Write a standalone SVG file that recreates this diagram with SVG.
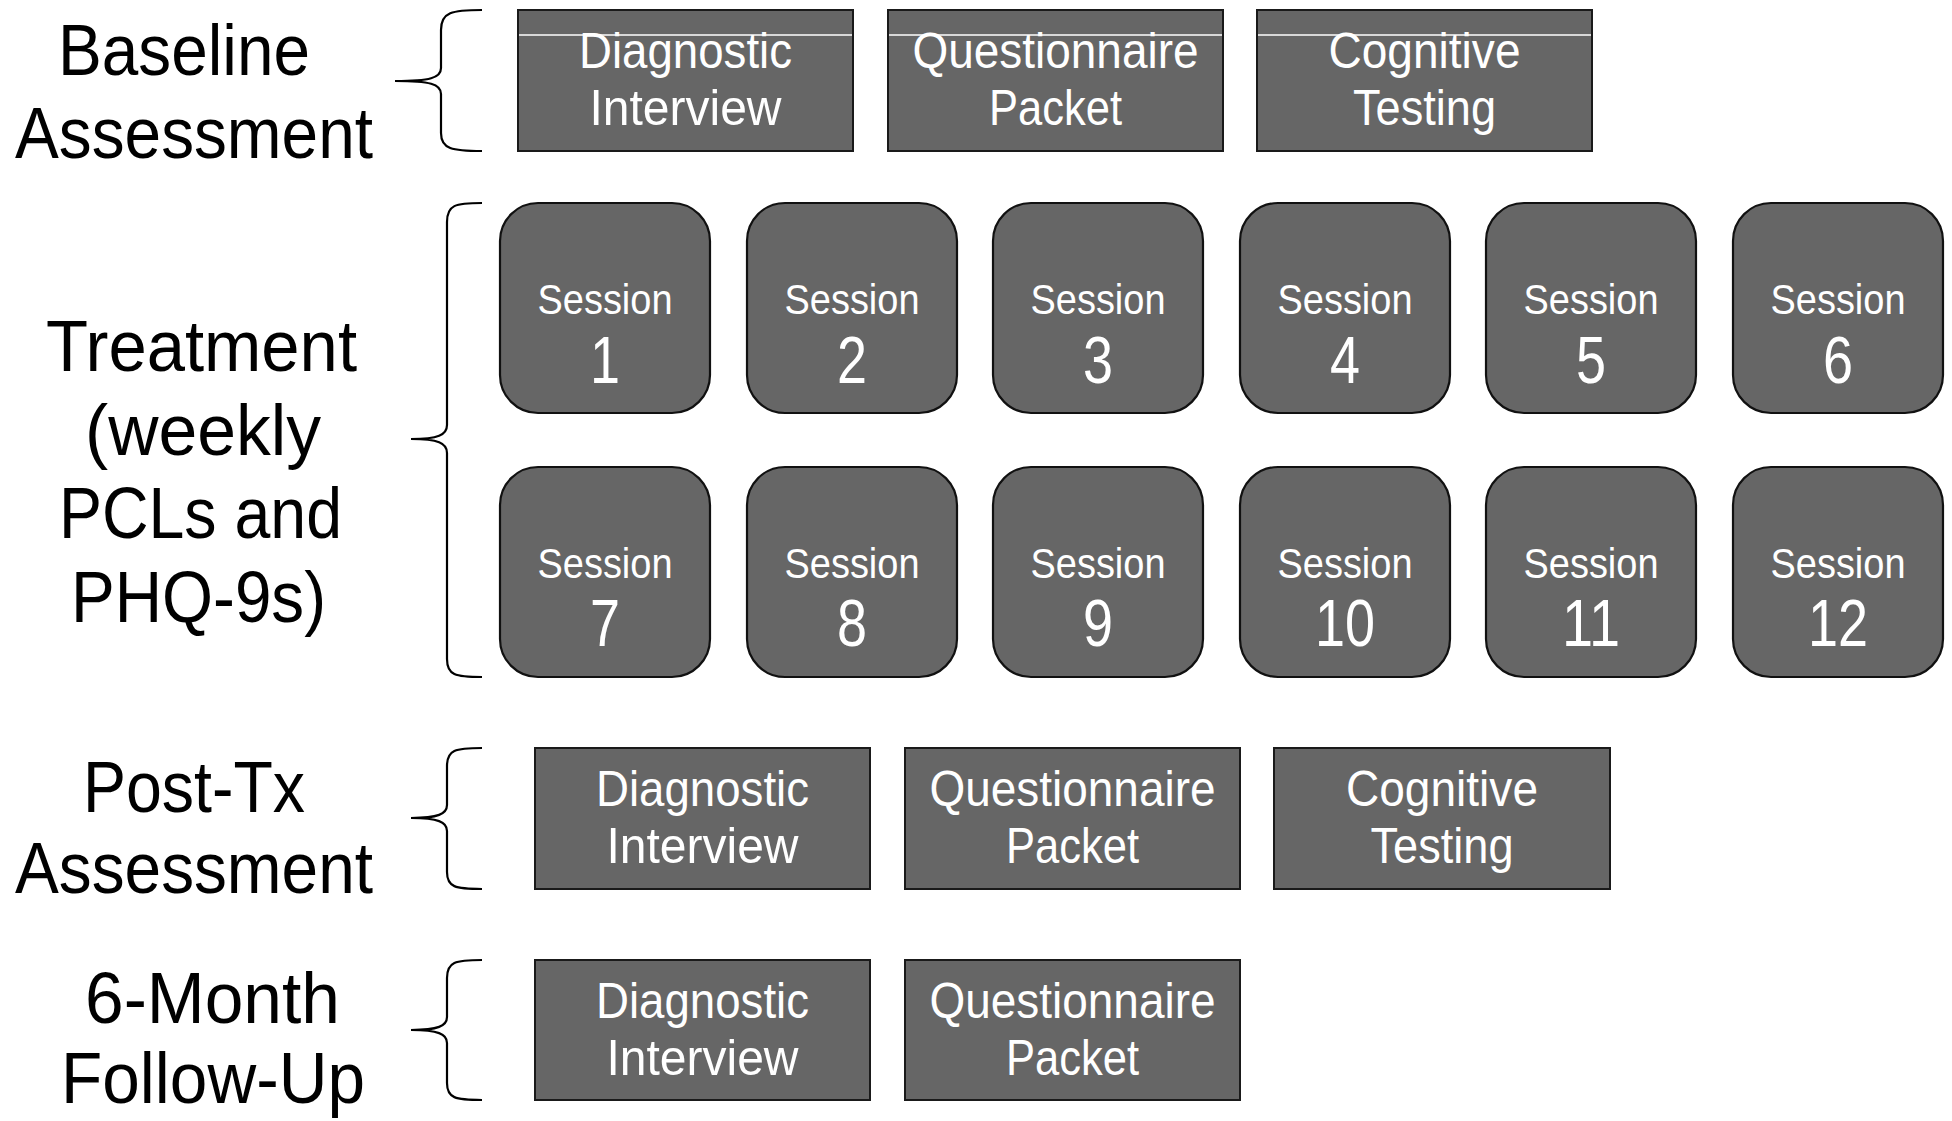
<svg xmlns="http://www.w3.org/2000/svg" width="1952" height="1121" viewBox="0 0 1952 1121">
<style>
.box{fill:#666666;stroke:#1a1a1a;stroke-width:2}
.sess{fill:#666666;stroke:#111111;stroke-width:2.2}
.hl{stroke:#ffffff;stroke-width:1.5}
.bt{font-family:"Liberation Sans",Arial,sans-serif;font-size:50px;fill:#ffffff;text-anchor:middle}
.st{font-family:"Liberation Sans",Arial,sans-serif;font-size:42px;fill:#ffffff;text-anchor:middle}
.nt{font-family:"Liberation Sans",Arial,sans-serif;font-size:66px;fill:#ffffff;text-anchor:middle}
.lbl{font-family:"Liberation Sans",Arial,sans-serif;font-size:73px;fill:#000000}
.brace{fill:none;stroke:#000000;stroke-width:2.2}
</style>
<rect width="1952" height="1121" fill="#ffffff"/>

<g id="labels">
<text class="lbl" x="58" y="75" textLength="252" lengthAdjust="spacingAndGlyphs">Baseline</text>
<text class="lbl" x="15" y="158" textLength="358" lengthAdjust="spacingAndGlyphs">Assessment</text>
<text class="lbl" x="46" y="371" textLength="311" lengthAdjust="spacingAndGlyphs">Treatment</text>
<text class="lbl" x="85" y="455" textLength="236" lengthAdjust="spacingAndGlyphs">(weekly</text>
<text class="lbl" x="59" y="538" textLength="283" lengthAdjust="spacingAndGlyphs">PCLs and</text>
<text class="lbl" x="71" y="622" textLength="255" lengthAdjust="spacingAndGlyphs">PHQ-9s)</text>
<text class="lbl" x="83" y="812" textLength="222" lengthAdjust="spacingAndGlyphs">Post-Tx</text>
<text class="lbl" x="15" y="893" textLength="358" lengthAdjust="spacingAndGlyphs">Assessment</text>
<text class="lbl" x="85" y="1023" textLength="255" lengthAdjust="spacingAndGlyphs">6-Month</text>
<text class="lbl" x="61" y="1103" textLength="304" lengthAdjust="spacingAndGlyphs">Follow-Up</text>
</g>

<g id="connectors">
<path class="brace" d="M482,10 C452,10 441,12 441,30 L441,68 C441,78 430,81 395,81 C430,81 441,84 441,94 L441,133 C441,149 452,151 482,151"/>
<path class="brace" d="M482,203 C455,203 447,205 447,222 L447,425 C447,435 438,439 411,439 C438,439 447,443 447,453 L447,659 C447,675 455,677 482,677"/>
<path class="brace" d="M482,748 C455,748 447,750 447,766 L447,805 C447,814 438,818 411,818 C438,818 447,822 447,831 L447,872 C447,887 455,889 482,889"/>
<path class="brace" d="M482,960 C455,960 447,962 447,978 L447,1017 C447,1026 438,1030 411,1030 C438,1030 447,1034 447,1043 L447,1083 C447,1098 455,1100 482,1100"/>
</g>

<g id="baseline-diagnostic">
<rect class="box" x="518" y="10" width="335" height="141"/>
<line class="hl" x1="519" y1="35" x2="852" y2="35"/>
<text class="bt" x="685.5" y="68" textLength="213" lengthAdjust="spacingAndGlyphs">Diagnostic</text>
<text class="bt" x="685.5" y="125" textLength="192" lengthAdjust="spacingAndGlyphs">Interview</text>
</g>
<g id="baseline-questionnaire">
<rect class="box" x="888" y="10" width="335" height="141"/>
<line class="hl" x1="889" y1="35" x2="1222" y2="35"/>
<text class="bt" x="1055.5" y="68" textLength="286" lengthAdjust="spacingAndGlyphs">Questionnaire</text>
<text class="bt" x="1055.5" y="125" textLength="133" lengthAdjust="spacingAndGlyphs">Packet</text>
</g>
<g id="baseline-cognitive">
<rect class="box" x="1257" y="10" width="335" height="141"/>
<line class="hl" x1="1258" y1="35" x2="1591" y2="35"/>
<text class="bt" x="1424.5" y="68" textLength="192" lengthAdjust="spacingAndGlyphs">Cognitive</text>
<text class="bt" x="1424.5" y="125" textLength="143" lengthAdjust="spacingAndGlyphs">Testing</text>
</g>

<g id="session-1"><rect class="sess" x="500" y="203" width="210" height="210" rx="38"/><text class="st" x="605" y="314" textLength="135" lengthAdjust="spacingAndGlyphs">Session</text><text class="nt" x="605" y="383" textLength="30" lengthAdjust="spacingAndGlyphs">1</text></g>
<g id="session-2"><rect class="sess" x="747" y="203" width="210" height="210" rx="38"/><text class="st" x="852" y="314" textLength="135" lengthAdjust="spacingAndGlyphs">Session</text><text class="nt" x="852" y="383" textLength="30" lengthAdjust="spacingAndGlyphs">2</text></g>
<g id="session-3"><rect class="sess" x="993" y="203" width="210" height="210" rx="38"/><text class="st" x="1098" y="314" textLength="135" lengthAdjust="spacingAndGlyphs">Session</text><text class="nt" x="1098" y="383" textLength="30" lengthAdjust="spacingAndGlyphs">3</text></g>
<g id="session-4"><rect class="sess" x="1240" y="203" width="210" height="210" rx="38"/><text class="st" x="1345" y="314" textLength="135" lengthAdjust="spacingAndGlyphs">Session</text><text class="nt" x="1345" y="383" textLength="30" lengthAdjust="spacingAndGlyphs">4</text></g>
<g id="session-5"><rect class="sess" x="1486" y="203" width="210" height="210" rx="38"/><text class="st" x="1591" y="314" textLength="135" lengthAdjust="spacingAndGlyphs">Session</text><text class="nt" x="1591" y="383" textLength="30" lengthAdjust="spacingAndGlyphs">5</text></g>
<g id="session-6"><rect class="sess" x="1733" y="203" width="210" height="210" rx="38"/><text class="st" x="1838" y="314" textLength="135" lengthAdjust="spacingAndGlyphs">Session</text><text class="nt" x="1838" y="383" textLength="30" lengthAdjust="spacingAndGlyphs">6</text></g>

<g id="session-7"><rect class="sess" x="500" y="467" width="210" height="210" rx="38"/><text class="st" x="605" y="578" textLength="135" lengthAdjust="spacingAndGlyphs">Session</text><text class="nt" x="605" y="646" textLength="30" lengthAdjust="spacingAndGlyphs">7</text></g>
<g id="session-8"><rect class="sess" x="747" y="467" width="210" height="210" rx="38"/><text class="st" x="852" y="578" textLength="135" lengthAdjust="spacingAndGlyphs">Session</text><text class="nt" x="852" y="646" textLength="30" lengthAdjust="spacingAndGlyphs">8</text></g>
<g id="session-9"><rect class="sess" x="993" y="467" width="210" height="210" rx="38"/><text class="st" x="1098" y="578" textLength="135" lengthAdjust="spacingAndGlyphs">Session</text><text class="nt" x="1098" y="646" textLength="30" lengthAdjust="spacingAndGlyphs">9</text></g>
<g id="session-10"><rect class="sess" x="1240" y="467" width="210" height="210" rx="38"/><text class="st" x="1345" y="578" textLength="135" lengthAdjust="spacingAndGlyphs">Session</text><text class="nt" x="1345" y="646" textLength="60" lengthAdjust="spacingAndGlyphs">10</text></g>
<g id="session-11"><rect class="sess" x="1486" y="467" width="210" height="210" rx="38"/><text class="st" x="1591" y="578" textLength="135" lengthAdjust="spacingAndGlyphs">Session</text><text class="nt" x="1591" y="646" textLength="58" lengthAdjust="spacingAndGlyphs">11</text></g>
<g id="session-12"><rect class="sess" x="1733" y="467" width="210" height="210" rx="38"/><text class="st" x="1838" y="578" textLength="135" lengthAdjust="spacingAndGlyphs">Session</text><text class="nt" x="1838" y="646" textLength="60" lengthAdjust="spacingAndGlyphs">12</text></g>

<g id="post-diagnostic">
<rect class="box" x="535" y="748" width="335" height="141"/>
<text class="bt" x="702.5" y="806" textLength="213" lengthAdjust="spacingAndGlyphs">Diagnostic</text>
<text class="bt" x="702.5" y="863" textLength="192" lengthAdjust="spacingAndGlyphs">Interview</text>
</g>
<g id="post-questionnaire">
<rect class="box" x="905" y="748" width="335" height="141"/>
<text class="bt" x="1072.5" y="806" textLength="286" lengthAdjust="spacingAndGlyphs">Questionnaire</text>
<text class="bt" x="1072.5" y="863" textLength="133" lengthAdjust="spacingAndGlyphs">Packet</text>
</g>
<g id="post-cognitive">
<rect class="box" x="1274" y="748" width="336" height="141"/>
<text class="bt" x="1442" y="806" textLength="192" lengthAdjust="spacingAndGlyphs">Cognitive</text>
<text class="bt" x="1442" y="863" textLength="143" lengthAdjust="spacingAndGlyphs">Testing</text>
</g>

<g id="followup-diagnostic">
<rect class="box" x="535" y="960" width="335" height="140"/>
<text class="bt" x="702.5" y="1018" textLength="213" lengthAdjust="spacingAndGlyphs">Diagnostic</text>
<text class="bt" x="702.5" y="1075" textLength="192" lengthAdjust="spacingAndGlyphs">Interview</text>
</g>
<g id="followup-questionnaire">
<rect class="box" x="905" y="960" width="335" height="140"/>
<text class="bt" x="1072.5" y="1018" textLength="286" lengthAdjust="spacingAndGlyphs">Questionnaire</text>
<text class="bt" x="1072.5" y="1075" textLength="133" lengthAdjust="spacingAndGlyphs">Packet</text>
</g>
</svg>
